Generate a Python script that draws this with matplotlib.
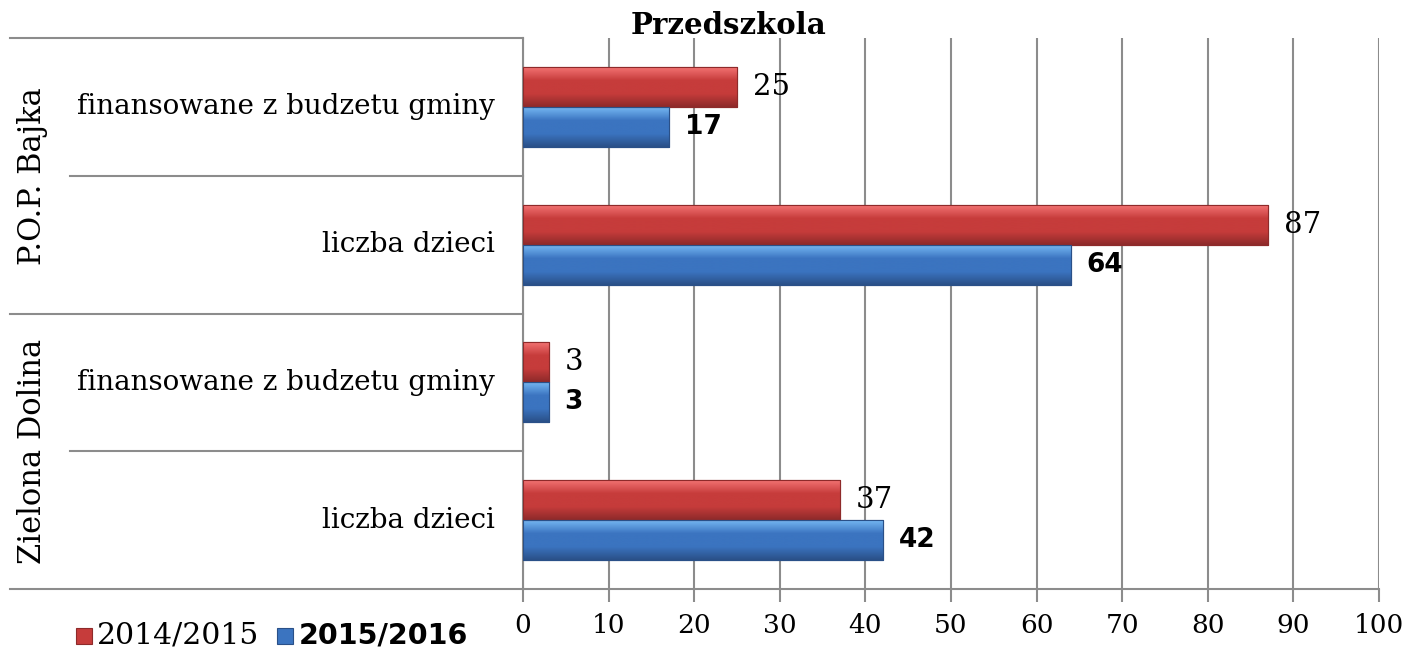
import numpy as np
import matplotlib
matplotlib.use("Agg")
import matplotlib.pyplot as plt
from matplotlib.patches import Rectangle

# ---- data ----
groups = ["P.O.P. Bajka", "Zielona Dolina"]
categories = ["finansowane z budzetu gminy", "liczba dzieci",
              "finansowane z budzetu gminy", "liczba dzieci"]
series_names = ["2014/2015", "2015/2016"]
values_2014 = [25, 87, 3, 37]
values_2015 = [17, 64, 3, 42]
x_ticks = [0, 10, 20, 30, 40, 50, 60, 70, 80, 90, 100]

W, H = 1409, 652
fig = plt.figure(figsize=(W / 100, H / 100), dpi=100)
L, R, T, B = 523, 1379, 38, 589
ax = fig.add_axes([L / W, 1 - B / H, (R - L) / W, (B - T) / H])

serif = "DejaVu Serif"
sans = "DejaVu Sans"
grid_c = "#8c8c8c"

n = len(categories)
ypos = np.arange(n)
bh = 0.29

red_c = ("#f27272", "#c63c3b", "#8e2a2a")
blue_c = ("#74b6f2", "#3b74c0", "#2a5088")


def grad_bars(ys, vals, cols):
    bars = ax.barh(ys, vals, height=bh, color=cols[1], zorder=3,
                   edgecolor=cols[2], linewidth=0.8)
    cmap = matplotlib.colors.LinearSegmentedColormap.from_list(
        "g", [cols[0], cols[1], cols[1], cols[2]])
    grad = np.linspace(0, 1, 64).reshape(-1, 1)
    for b in bars:
        x0, y0 = b.get_x(), b.get_y()
        w, h = b.get_width(), b.get_height()
        im = ax.imshow(grad, cmap=cmap, aspect="auto",
                       extent=(x0, x0 + w, y0 + h, y0), zorder=3.5,
                       interpolation="bicubic")
        im.set_clip_path(b)
        ax.add_patch(Rectangle((x0, y0), w, h, fill=False,
                               edgecolor=cols[2], linewidth=0.8, zorder=4))
    return bars


bars_a = grad_bars(ypos - bh / 2, values_2014, red_c)
bars_b = grad_bars(ypos + bh / 2, values_2015, blue_c)

ax.set_xlim(0, 100)
ax.set_ylim(n - 0.5, -0.5)
ax.set_xticks(x_ticks)
ax.set_xticklabels([str(t) for t in x_ticks], fontfamily=serif, fontsize=19)
ax.tick_params(axis="x", length=9, width=1.5, color=grid_c, pad=8)
ax.set_yticks([])
ax.xaxis.grid(True, color=grid_c, linewidth=1.5, zorder=0)
ax.set_axisbelow(True)
for s in ["top", "right"]:
    ax.spines[s].set_visible(False)
for s in ["left", "bottom"]:
    ax.spines[s].set_color(grid_c)
    ax.spines[s].set_linewidth(1.5)

# value labels
off = 16 * 0.72
for y, v in zip(ypos - bh / 2, values_2014):
    ax.annotate(str(v), (v, y), xytext=(off, 0), textcoords="offset points",
                va="center", ha="left", fontfamily=serif, fontsize=21, zorder=5)
for y, v in zip(ypos + bh / 2, values_2015):
    ax.annotate(str(v), (v, y), xytext=(off, 0), textcoords="offset points",
                va="center", ha="left", fontfamily=sans, fontweight="bold",
                fontsize=19, zorder=5)

# category table on the left
tr = matplotlib.transforms.blended_transform_factory(fig.transFigure, ax.transData)
for yb in [-0.5, 1.5, 3.5]:
    ax.plot([10 / W, L / W], [yb, yb], transform=tr, color=grid_c,
            linewidth=1.5, clip_on=False, zorder=1)
for yb in [0.5, 2.5]:
    ax.plot([70 / W, L / W], [yb, yb], transform=tr, color=grid_c,
            linewidth=1.5, clip_on=False, zorder=1)
for y, c in zip(ypos, categories):
    ax.text(495 / W, y, c, transform=tr, ha="right", va="center",
            fontfamily=serif, fontsize=20)
for gi, g in enumerate(groups):
    ax.text(33 / W, gi * 2 + 0.5, g, transform=tr, ha="center", va="center",
            rotation=90, fontfamily=serif, fontsize=22)

# title
fig.text(729 / W, 1 - 25 / H, "Przedszkola", ha="center", va="center",
         fontfamily=serif, fontweight="bold", fontsize=21)

# legend
def legend_square(x0, cols):
    s = 16
    fig.patches.append(Rectangle((x0 / W, 1 - (636 + s / 2) / H),
                                 s / W, s / H, transform=fig.transFigure,
                                 facecolor=cols[1], edgecolor=cols[2],
                                 linewidth=0.8))

legend_square(76, red_c)
fig.text(97 / W, 1 - 635 / H, series_names[0], ha="left", va="center",
         fontfamily=serif, fontsize=21.5)
legend_square(277, blue_c)
fig.text(299 / W, 1 - 635 / H, series_names[1], ha="left", va="center",
         fontfamily=sans, fontweight="bold", fontsize=20.5)

fig.savefig("out.png", dpi=100)
